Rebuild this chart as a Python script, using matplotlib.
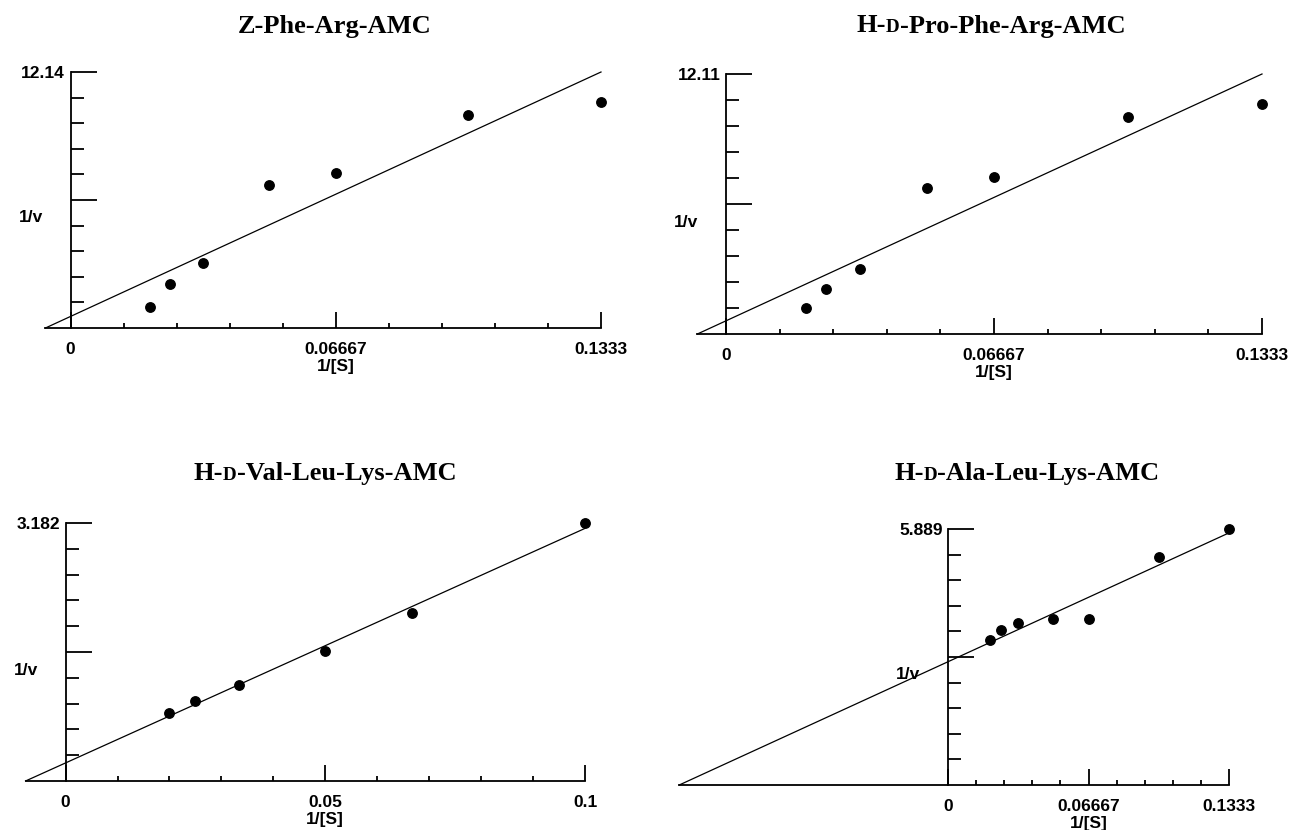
import numpy as np
import matplotlib.pyplot as plt
from matplotlib.offsetbox import TextArea, HPacker, AnchoredOffsetbox

W, H = 1291, 830

# substrate concentrations (1/[S] on the x axis)
conc_7 = [50, 40, 30, 20, 15, 10, 7.5]
conc_6 = [50, 40, 30, 20, 15, 10]

titles = ["Z-Phe-Arg-AMC", "H-D-Pro-Phe-Arg-AMC",
          "H-D-Val-Leu-Lys-AMC", "H-D-Ala-Leu-Lys-AMC"]

# 1/v for each substrate
inv_v_zfr = [1.01, 2.10, 3.06, 6.77, 7.33, 10.09, 10.71]
inv_v_pfr = [1.19, 2.09, 3.05, 6.78, 7.33, 10.09, 10.70]
inv_v_vll = [0.841, 0.985, 1.183, 1.603, 2.077, 3.182]
inv_v_all = [3.34, 3.555, 3.716, 3.81, 3.82, 5.24, 5.889]

sets = [(conc_7, inv_v_zfr), (conc_7, inv_v_pfr),
        (conc_6, inv_v_vll), (conc_7, inv_v_all)]

# pixel placement: y-axis x, right end x, x-axis y, top y, title centre
layout = [
    dict(x0=70.5, xr=601, yb=328, yt=72, tx=335, ty=26),
    dict(x0=726, xr=1262, yb=334, yt=74, tx=991, ty=26),
    dict(x0=65.6, xr=585, yb=781, yt=523, tx=325, ty=473),
    dict(x0=948, xr=1229, yb=785, yt=529, tx=1027, ty=473),
]

lab_font = dict(family="Liberation Sans", weight="bold", size=12.5)
ttl_font = dict(family="Liberation Serif", weight="bold")


def fmt(v):
    return "%.4g" % v


def draw_title(fig, text, x, y, size=19):
    # the D- prefix is set in small capitals
    if text.startswith("H-D-"):
        parts = [("H-", size), ("D", size * 0.72), (text[3:], size)]
    else:
        parts = [(text, size)]
    boxes = [TextArea(s, textprops=dict(size=sz, **ttl_font)) for s, sz in parts]
    pack = HPacker(children=boxes, align="baseline", pad=0, sep=0)
    anc = AnchoredOffsetbox(loc="center", child=pack, frameon=False, pad=0,
                            borderpad=0, bbox_to_anchor=(x / W, 1 - y / H),
                            bbox_transform=fig.transFigure)
    fig.add_artist(anc)


fig = plt.figure(figsize=(W / 100, H / 100), dpi=100)

for (conc, vals), title, L in zip(sets, titles, layout):
    x = 1.0 / np.array(conc)
    y = np.array(vals)
    slope, icpt = np.polyfit(x, y, 1)
    xmax = x.max()
    xint = -icpt / slope
    yend = slope * xmax + icpt
    ytop = max(y.max(), yend)

    left = L["x0"] + xint / xmax * (L["xr"] - L["x0"])
    ax = fig.add_axes([left / W, 1 - L["yb"] / H,
                       (L["xr"] - left) / W, (L["yb"] - L["yt"]) / H])
    ax.set_xlim(xint, xmax)
    ax.set_ylim(0, ytop)

    ax.plot([xint, xmax], [0, yend], color="black", lw=0.9, clip_on=False)
    ax.plot(x, y, "o", color="black", ms=6.8, clip_on=False)

    for s in ["top", "right"]:
        ax.spines[s].set_visible(False)
    ax.spines["left"].set_position(("data", 0))
    ax.spines["left"].set_linewidth(1.3)
    ax.spines["bottom"].set_linewidth(1.3)

    ax.set_xticks([0, xmax / 2, xmax], labels=["0", fmt(xmax / 2), fmt(xmax)])
    ax.set_xticks([xmax * k / 10 for k in range(1, 10) if k != 5], minor=True)
    ax.set_yticks([ytop / 2, ytop], labels=["", fmt(ytop)])
    ax.set_yticks([ytop * k / 10 for k in (1, 2, 3, 4, 6, 7, 8, 9)], minor=True)

    ax.tick_params(axis="x", which="major", direction="in", length=11.5,
                   width=1.3, pad=10)
    ax.tick_params(axis="x", which="minor", direction="in", length=3.5,
                   width=1.3)
    ax.tick_params(axis="y", which="major", direction="in", length=19,
                   width=1.3, pad=4)
    ax.tick_params(axis="y", which="minor", direction="in", length=9.5,
                   width=1.3)
    for t in ax.get_xticklabels() + ax.get_yticklabels():
        t.set_fontproperties(lab_font)

    ax.annotate("1/v", xy=(0, 0.43), xycoords=("data", "axes fraction"),
                xytext=(-20, 0), textcoords="offset points",
                ha="right", va="center", **lab_font)
    ax.annotate("1/[S]", xy=(xmax / 2, 0), xycoords="data",
                xytext=(0, -27.5), textcoords="offset points",
                ha="center", va="center", **lab_font)

    draw_title(fig, title, L["tx"], L["ty"])

fig.savefig("out.png", dpi=100)
